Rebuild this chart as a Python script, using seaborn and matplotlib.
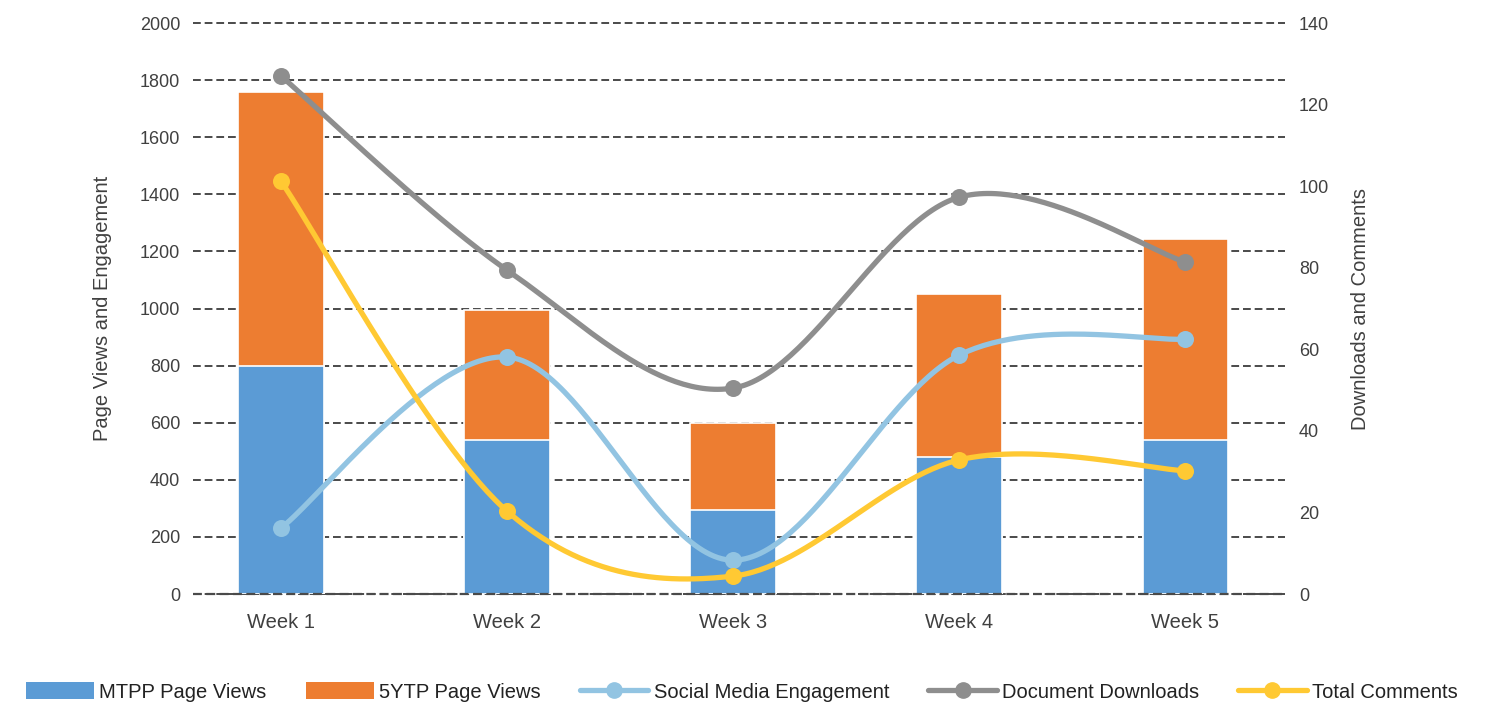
import numpy as np
import pandas as pd
import matplotlib
matplotlib.use("Agg")
import matplotlib.pyplot as plt
from matplotlib.patches import Patch
from matplotlib.lines import Line2D
import seaborn as sns

weeks = ["Week 1", "Week 2", "Week 3", "Week 4", "Week 5"]
mtpp_views = [800, 540, 295, 480, 540]
ytp_views = [960, 455, 305, 570, 705]
social_engagement = [16.2, 58.1, 8.3, 58.6, 62.5]
doc_downloads = [127, 79.4, 50.5, 97.3, 81.4]
total_comments = [101.2, 20.3, 4.4, 32.9, 30.2]

left_ticks = list(range(0, 2001, 200))
right_ticks = list(range(0, 141, 20))

C_MTPP = "#5B9BD5"
C_YTP = "#ED7D31"
C_SOCIAL = "#92C4E2"
C_DOWN = "#8E8E8E"
C_COMM = "#FFC933"
TXT = "#404040"
GRID = "#4a4a4a"

sns.set_theme(style="white")
plt.rcParams["font.family"] = ["Liberation Sans", "DejaVu Sans"]


def smooth(xs, ys, n=60):
    """Catmull-Rom curve through the points (end points duplicated)."""
    xs = np.asarray(xs, float)
    ys = np.asarray(ys, float)
    px = np.concatenate([[xs[0]], xs, [xs[-1]]])
    py = np.concatenate([[ys[0]], ys, [ys[-1]]])
    ox, oy = [], []
    for i in range(1, len(px) - 2):
        t = np.linspace(0, 1, n)
        h00 = 2 * t**3 - 3 * t**2 + 1
        h10 = t**3 - 2 * t**2 + t
        h01 = -2 * t**3 + 3 * t**2
        h11 = t**3 - t**2
        mx0 = (px[i + 1] - px[i - 1]) / 2
        mx1 = (px[i + 2] - px[i]) / 2
        my0 = (py[i + 1] - py[i - 1]) / 2
        my1 = (py[i + 2] - py[i]) / 2
        ox.append(h00 * px[i] + h10 * mx0 + h01 * px[i + 1] + h11 * mx1)
        oy.append(h00 * py[i] + h10 * my0 + h01 * py[i + 1] + h11 * my1)
    return np.concatenate(ox), np.concatenate(oy)


fig = plt.figure(figsize=(14.95, 7.06), dpi=100)
ax = fig.add_axes([0.129, 0.1586, 0.7305, 0.8088])

bars = pd.DataFrame({
    "week": weeks,
    "total": np.add(mtpp_views, ytp_views),
    "mtpp": mtpp_views,
})
sns.barplot(data=bars, x="week", y="total", color=C_YTP, saturation=1,
            width=0.38, edgecolor="white", linewidth=1.2, ax=ax, zorder=2)
sns.barplot(data=bars, x="week", y="mtpp", color=C_MTPP, saturation=1,
            width=0.38, edgecolor="white", linewidth=1.2, ax=ax, zorder=3)

ax.set_ylim(0, 2000)
ax.set_xlim(-0.39, 4.44)
ax.set_yticks(left_ticks)
ax.set_axisbelow(True)
ax.yaxis.grid(True, linestyle=(0, (4, 2)), color=GRID, linewidth=1.4, zorder=0)
ax.xaxis.grid(False)
for gl in ax.get_ygridlines():
    gl.set_clip_on(False)
# baseline dashes run across the foot of the bars
ax.axhline(0, linestyle=(0, (4, 2)), color=GRID, linewidth=1.6, zorder=3.5,
           clip_on=False)
for s in ax.spines.values():
    s.set_visible(False)
ax.tick_params(axis="y", length=0, labelsize=13, colors=TXT, pad=9)
ax.tick_params(axis="x", length=0, labelsize=14.5, colors=TXT, pad=14)
ax.set_xlabel("")
ax.set_ylabel("Page Views and Engagement", fontsize=14.5, color=TXT, labelpad=20)

ax2 = ax.twinx()
ax2.set_ylim(0, 140)
ax2.set_yticks(right_ticks)
for s in ax2.spines.values():
    s.set_visible(False)
ax2.tick_params(axis="y", length=0, labelsize=13, colors=TXT, pad=10)
ax2.set_ylabel("Downloads and Comments", fontsize=14.5, color=TXT, labelpad=16)

xpos = np.arange(len(weeks))
series = [
    (social_engagement, C_SOCIAL, "Social Media Engagement"),
    (doc_downloads, C_DOWN, "Document Downloads"),
    (total_comments, C_COMM, "Total Comments"),
]
for vals, col, name in series:
    sx, sy = smooth(xpos, vals)
    sns.lineplot(x=sx, y=sy, ax=ax2, color=col, linewidth=3.8, sort=False,
                 estimator=None, solid_capstyle="round", zorder=4)
    sns.scatterplot(x=xpos, y=vals, ax=ax2, color=col, s=150,
                    edgecolor=col, linewidth=0, zorder=5)
ax2.set_xlim(-0.39, 4.44)

handles = [
    Patch(facecolor=C_MTPP, edgecolor="none"),
    Patch(facecolor=C_YTP, edgecolor="none"),
    Line2D([], [], color=C_SOCIAL, lw=3.8, marker="o", markersize=11),
    Line2D([], [], color=C_DOWN, lw=3.8, marker="o", markersize=11),
    Line2D([], [], color=C_COMM, lw=3.8, marker="o", markersize=11),
]
labels = ["MTPP Page Views", "5YTP Page Views", "Social Media Engagement",
          "Document Downloads", "Total Comments"]
fig.legend(handles, labels, loc="center", bbox_to_anchor=(0.496, 0.02),
           ncol=5, frameon=False, fontsize=14.5, handlelength=3.4,
           handleheight=0.9, handletextpad=0.25, columnspacing=1.95,
           borderaxespad=0, borderpad=0, labelcolor="#222222")

fig.savefig("out.png", dpi=100)
